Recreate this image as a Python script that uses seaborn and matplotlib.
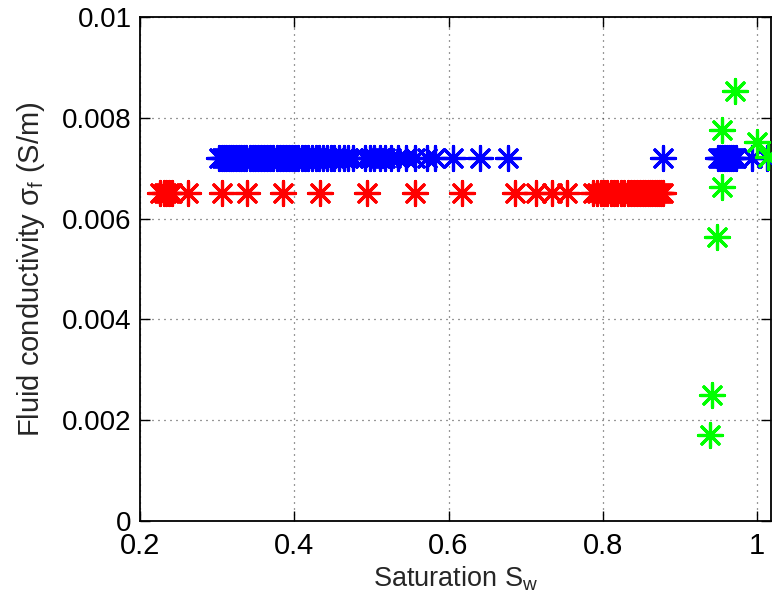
import numpy as np
import pandas as pd
import seaborn as sns
import matplotlib.pyplot as plt
from matplotlib import ticker

# saturation values, one list per series
sw_red = [0.226, 0.231, 0.234, 0.237, 0.241, 0.262, 0.306, 0.339, 0.385, 0.433,
          0.494, 0.556, 0.617, 0.686, 0.713, 0.734, 0.753, 0.787, 0.792, 0.797,
          0.801, 0.806, 0.811, 0.815, 0.819, 0.824, 0.828, 0.832, 0.836, 0.840,
          0.844, 0.848, 0.852, 0.855, 0.858, 0.861, 0.864, 0.867, 0.870, 0.873,
          0.876, 0.878]
sig_red = [0.0065] * len(sw_red)

sw_blue = [0.302, 0.306, 0.309, 0.312, 0.315, 0.318, 0.321, 0.325, 0.328, 0.331,
           0.335, 0.338, 0.342, 0.346, 0.349, 0.353, 0.357, 0.361, 0.365, 0.369,
           0.373, 0.377, 0.381, 0.385, 0.389, 0.393, 0.397, 0.401, 0.405, 0.410,
           0.414, 0.418, 0.423, 0.428, 0.432, 0.437, 0.442, 0.447, 0.452, 0.458,
           0.464, 0.470, 0.476, 0.492, 0.498, 0.504, 0.511, 0.518, 0.526, 0.534,
           0.545, 0.556, 0.572, 0.582, 0.606, 0.641, 0.677, 0.878, 0.949, 0.952,
           0.955, 0.957, 0.959, 0.961, 0.963, 0.966, 0.969, 0.972, 0.994, 1.013]
sig_blue = [0.0072] * len(sw_blue)

sw_green = [0.939, 0.942, 0.948, 0.955, 0.954, 0.971, 1.000, 1.014]
sig_green = [0.00171, 0.00250, 0.00564, 0.00663, 0.00776, 0.00854, 0.00752, 0.00722]

x_ticks = [0.2, 0.4, 0.6, 0.8, 1.0]
y_ticks = [0, 0.002, 0.004, 0.006, 0.008, 0.01]

sns.set_style('ticks')
plt.rcParams['font.family'] = ['Liberation Sans', 'DejaVu Sans']
plt.rcParams['mathtext.fontset'] = 'custom'
plt.rcParams['mathtext.rm'] = 'Liberation Sans'
plt.rcParams['mathtext.it'] = 'Liberation Sans'

fig = plt.figure(figsize=(7.72, 6.01), dpi=100)
ax = fig.add_axes([0.1813, 0.1331, 0.8174, 0.8386])

star = (8, 2, 0)
for xs, ys, col in [(sw_red, sig_red, '#ff0000'),
                    (sw_blue, sig_blue, '#0000ff'),
                    (sw_green, sig_green, '#00ff00')]:
    df = pd.DataFrame({'sw': xs, 'sig': ys})
    sns.scatterplot(data=df, x='sw', y='sig', ax=ax, color=col, marker=star,
                    s=300, linewidth=2.3, legend=False, zorder=3)

ax.set_xlim(0.2, 1.018)
ax.set_ylim(0, 0.01)
ax.set_xticks(x_ticks)
ax.set_yticks(y_ticks)
ax.xaxis.set_major_formatter(ticker.FormatStrFormatter('%g'))
ax.yaxis.set_major_formatter(ticker.FormatStrFormatter('%g'))

for lab in ax.get_xticklabels():
    lab.set_fontsize(21)
for lab in ax.get_yticklabels():
    lab.set_fontsize(20)

ax.tick_params(direction='in', length=7, width=1, top=True, right=True,
               colors='black')
ax.tick_params(axis='x', pad=8)
ax.tick_params(axis='y', pad=6)
ax.grid(True, color='0.2', linestyle=(0, (0.8, 4)), linewidth=0.9)
for sp in ax.spines.values():
    sp.set_linewidth(1.3)
    sp.set_color('black')

ax.set_xlabel('Saturation S$_\\mathrm{w}$', fontsize=19.5, labelpad=3)
ax.set_ylabel('Fluid conductivity σ$_\\mathrm{f}$ (S/m)', fontsize=21, labelpad=11)

fig.savefig('out.png', dpi=100)
